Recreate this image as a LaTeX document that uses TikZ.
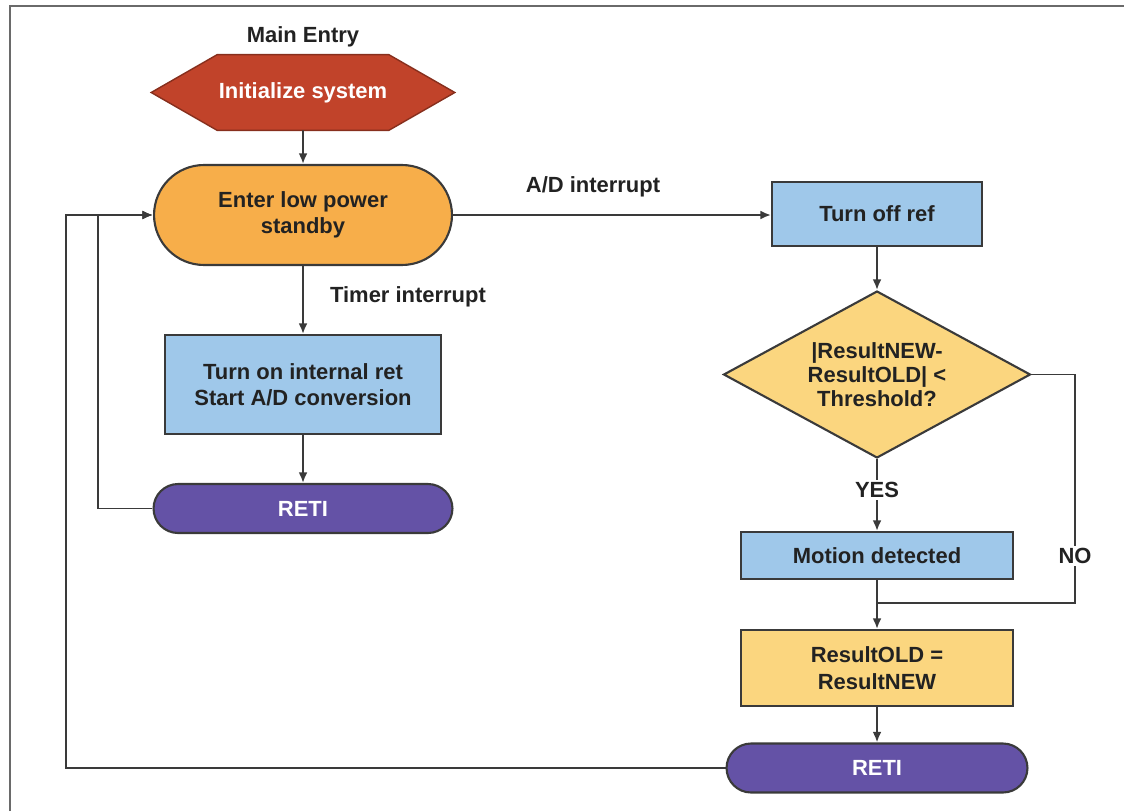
\documentclass[tikz,border=0pt]{standalone}
\usepackage{fontspec}
\setmainfont{Liberation Sans}
\usetikzlibrary{shapes.geometric,shapes.misc,arrows.meta}
\pgfdeclarelayer{background}
\pgfsetlayers{background,main}
\definecolor{linec}{HTML}{3A3A3A}
\definecolor{framec}{HTML}{6A6A6A}
\definecolor{txt}{HTML}{222222}
\definecolor{hexred}{HTML}{C1432A}
\definecolor{orng}{HTML}{F7AE4A}
\definecolor{bluebox}{HTML}{9FC8EA}
\definecolor{yel}{HTML}{FBD67F}
\definecolor{purp}{HTML}{6452A6}
\begin{document}
\begin{tikzpicture}[x=0.02cm,y=-0.02cm,
  font=\fontsize{12.5}{15}\selectfont\bfseries,
  line/.style={draw=linec, line width=1.1pt},
  arr/.style={line, -{Latex[length=6pt,width=5pt]}},
  box/.style={rectangle, draw=linec, line width=1.2pt, align=center, inner sep=2pt, text=txt},
  stad/.style={rounded rectangle, draw=linec, line width=1.2pt, align=center, inner sep=2pt},
  lbl/.style={text=txt, align=center, inner sep=1pt},
]
\useasboundingbox (0,0) rectangle (1124,811);
\draw[draw=framec, line width=1.3pt] (10,811) -- (10,6) -- (1124,6);

% left column
\node[lbl] (me) at (303,37) {Main Entry};
\node[minimum width=6.06cm, minimum height=1.5cm, text=white, inner sep=0pt] (init) at (303,92.5) {Initialize system};
\begin{pgfonlayer}{background}
\draw[fill=hexred, draw=hexred!70!black, line width=0.8pt]
  (init.west) -- ([xshift=1.32cm]init.north west) -- ([xshift=-1.32cm]init.north east)
  -- (init.east) -- ([xshift=-1.32cm]init.south east) -- ([xshift=1.32cm]init.south west) -- cycle;
\end{pgfonlayer}
\node[stad, fill=orng, text=txt, minimum width=6.1cm, minimum height=2cm] (sb) at (303,215) {Enter low power\\standby};
\node[box, fill=bluebox, minimum width=5.52cm, minimum height=1.98cm] (ton) at (303,384.5) {Turn on internal ret\\Start A/D conversion};
\node[stad, fill=purp, text=white, minimum width=6.12cm, minimum height=0.98cm] (reti1) at (303,508.5) {RETI};
\node[lbl] (tim) at (408,297) {Timer interrupt};

% right column
\node[box, fill=bluebox, minimum width=4.2cm, minimum height=1.28cm] (off) at (877,214) {Turn off ref};
\node[diamond, aspect=1.84, draw=linec, line width=1.2pt, fill=yel, text=txt, minimum width=6.14cm, minimum height=3.34cm, inner sep=0pt, align=center, font=\fontsize{12.5}{13.6}\selectfont\bfseries] (dec) at (877,374.5) {|ResultNEW-\\ResultOLD| <\\Threshold?};
\node[box, fill=bluebox, minimum width=5.44cm, minimum height=0.94cm] (mot) at (877,555.5) {Motion detected};
\node[box, fill=yel, minimum width=5.44cm, minimum height=1.52cm] (res) at (877,668) {ResultOLD =\\ResultNEW};
\node[stad, fill=purp, text=white, minimum width=6.16cm, minimum height=0.98cm] (reti2) at (877,768) {RETI};
\node[lbl] (adl) at (593,187) {A/D interrupt};

\coordinate (j1) at (98,508.5);
\coordinate (j2) at (66,768);
\coordinate (nr) at (1075,374.5);
\coordinate (mg) at (877,603);

% connectors
\draw[arr] (init) -- (sb);
\draw[arr] (sb) -- (ton);
\draw[arr] (ton) -- (reti1);
\draw[arr] (reti1.west) -- (j1) -- (j1 |- sb.west) -- (sb.west);
\draw[arr] (reti2.west) -- (j2) -- (j2 |- sb.west) -- (sb.west);
\draw[arr] (sb.east) -- (sb.east -| off.west);
\draw[arr] (off) -- (dec);
\draw[arr] (dec) -- (mot);
\node[lbl, fill=white] (yes) at (877,490) {YES};
\draw[line] (dec.east) -- (nr) -- (nr |- mg) -- (mg);
\node[lbl, fill=white] (no) at (1075,556) {NO};
\draw[arr] (mot) -- (res);
\draw[arr] (res) -- (reti2);
\end{tikzpicture}
\end{document}
